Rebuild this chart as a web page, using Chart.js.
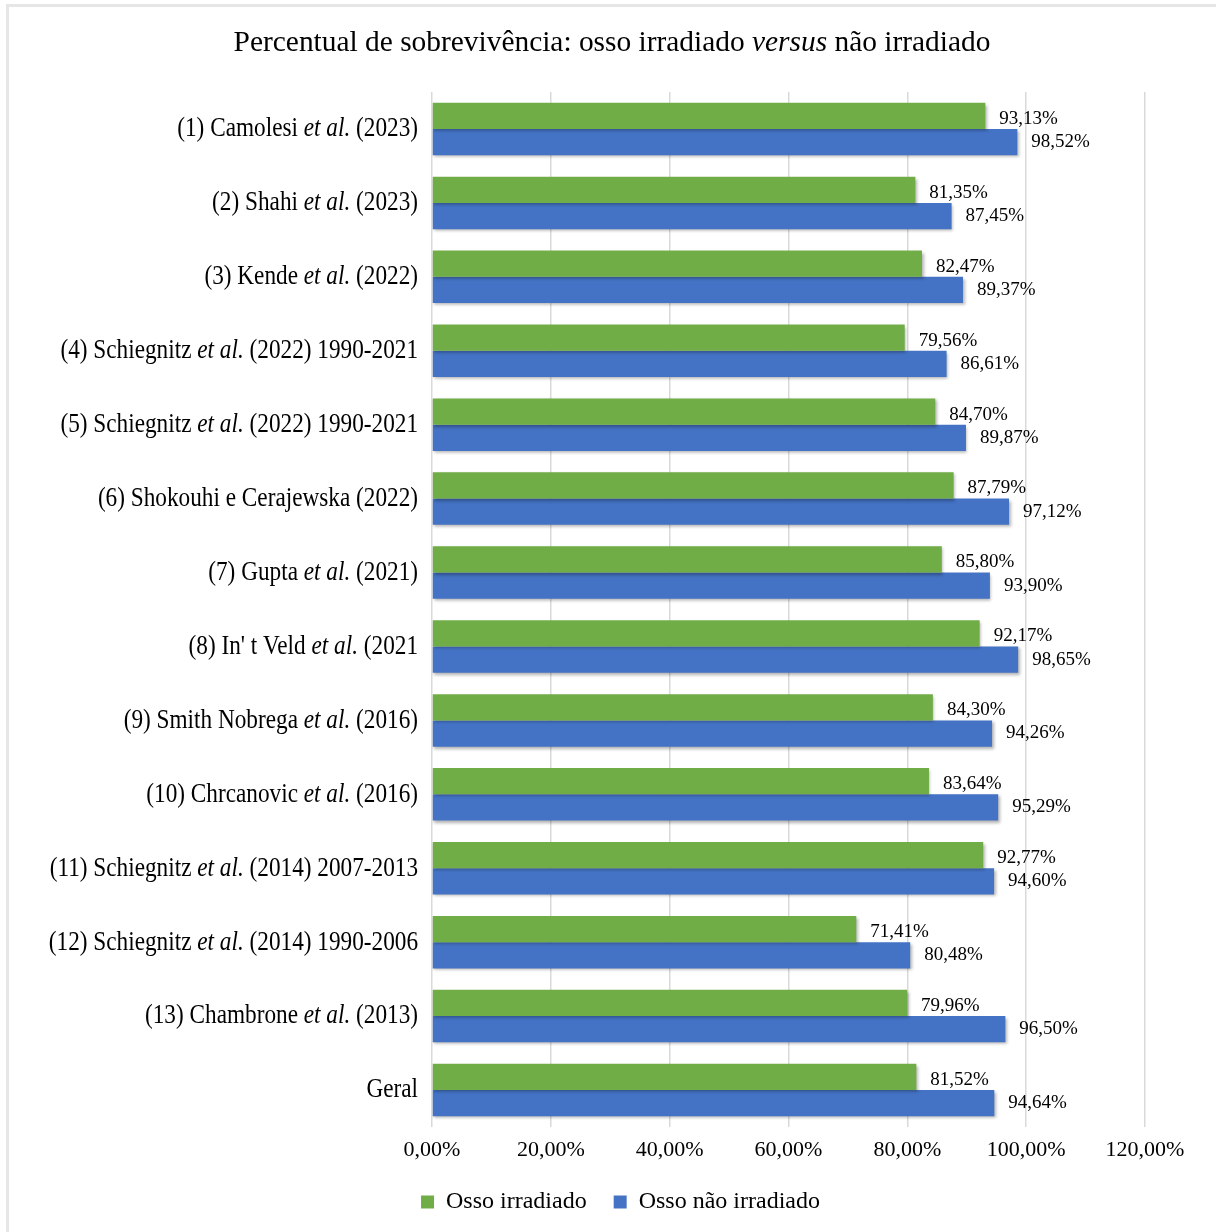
<!DOCTYPE html>
<html>
<head>
<meta charset="utf-8">
<script src="https://cdn.jsdelivr.net/npm/chart.js@4"></script>
<style>
  html, body { margin: 0; padding: 0; background: #fff; }
  #wrap { position: relative; width: 1216px; height: 1232px; overflow: hidden; }
  #frame { position: absolute; left: 6px; top: 4px; width: 1300px; height: 1300px;
           border-left: 3px solid #e6e6e6; border-top: 3px solid #e6e6e6; pointer-events: none; }
  canvas { position: absolute; left: 0; top: 0; }
</style>
</head>
<body>
<div id="wrap">
  <canvas id="myChart" width="1216" height="1232"></canvas>
  <div id="frame"></div>
</div>
<script>
const categories = [
  '(1) Camolesi et al. (2023)',
  '(2) Shahi et al. (2023)',
  '(3) Kende et al. (2022)',
  '(4) Schiegnitz et al. (2022) 1990-2021',
  '(5) Schiegnitz et al. (2022) 1990-2021',
  '(6) Shokouhi e Cerajewska (2022)',
  '(7) Gupta et al. (2021)',
  "(8) In' t Veld et al. (2021",
  '(9) Smith Nobrega et al. (2016)',
  '(10) Chrcanovic et al. (2016)',
  '(11) Schiegnitz et al. (2014) 2007-2013',
  '(12) Schiegnitz et al. (2014) 1990-2006',
  '(13) Chambrone et al. (2013)',
  'Geral'
];
const irradiado = [93.13, 81.35, 82.47, 79.56, 84.70, 87.79, 85.80, 92.17, 84.30, 83.64, 92.77, 71.41, 79.96, 81.52];
const naoIrradiado = [98.52, 87.45, 89.37, 86.61, 89.87, 97.12, 93.90, 98.65, 94.26, 95.29, 94.60, 80.48, 96.50, 94.64];
const seriesNames = ['Osso irradiado', 'Osso não irradiado'];
const titleParts = ['Percentual de sobrevivência: osso irradiado ', 'versus', ' não irradiado'];

const serif = '"Liberation Serif", "Times New Roman", serif';
const fmt = v => v.toFixed(2).replace('.', ',') + '%';

// draws text pieces (some italic), squeezed horizontally by sx
function drawMixed(ctx, parts, xAnchor, y, size, sx, align) {
  let total = 0;
  parts.forEach(p => {
    ctx.font = (p.i ? 'italic ' : '') + size + 'px ' + serif;
    p.w = ctx.measureText(p.t).width;
    total += p.w;
  });
  ctx.save();
  ctx.translate(xAnchor, y);
  ctx.scale(sx, 1);
  let x = align === 'center' ? -total / 2 : -total;
  ctx.textAlign = 'left';
  ctx.textBaseline = 'middle';
  ctx.fillStyle = '#000';
  parts.forEach(p => {
    ctx.font = (p.i ? 'italic ' : '') + size + 'px ' + serif;
    ctx.fillText(p.t, x, 0);
    x += p.w;
  });
  ctx.restore();
}

function splitLabel(s) {
  const k = s.indexOf('et al.');
  if (k < 0) return [{ t: s, i: false }];
  return [
    { t: s.slice(0, k), i: false },
    { t: 'et al.', i: true },
    { t: s.slice(k + 6), i: false }
  ];
}

const customText = {
  id: 'customText',
  afterLayout(chart) {
    // legend sits a bit right of the plot's centre in the original
    chart.legend.left += 48;
    chart.legend.right += 48;
  },
  beforeDatasetsDraw(chart) {
    const ctx = chart.ctx;
    ctx.save();
    ctx.shadowColor = 'rgba(0,0,0,0.3)';
    ctx.shadowOffsetX = 1.5;
    ctx.shadowOffsetY = 2;
    ctx.shadowBlur = 3;
  },
  afterDatasetsDraw(chart) {
    const ctx = chart.ctx;
    ctx.restore();
    // value labels
    ctx.save();
    ctx.font = '19px ' + serif;
    ctx.fillStyle = '#000';
    ctx.textBaseline = 'middle';
    ctx.textAlign = 'left';
    chart.data.datasets.forEach((ds, di) => {
      chart.getDatasetMeta(di).data.forEach((bar, i) => {
        ctx.fillText(fmt(ds.data[i]), bar.x + 14, bar.y + (di === 0 ? 3 : 0));
      });
    });
    ctx.restore();
    // category labels
    const ys = chart.scales.y;
    categories.forEach((c, i) => {
      drawMixed(ctx, splitLabel(c), ys.right - 14, ys.getPixelForValue(i), 28, 0.83, 'right');
    });
    // title
    const parts = titleParts.map((t, i) => ({ t: t, i: i === 1 }));
    drawMixed(ctx, parts, 612, 43, 30, 0.98, 'center');
  }
};

const ctx = document.getElementById('myChart').getContext('2d');
const myChart = new Chart(ctx, {
  type: 'bar',
  data: {
    labels: categories,
    datasets: [{
      label: seriesNames[0],
      data: irradiado,
      backgroundColor: '#70ad47',
      borderWidth: 0
    }, {
      label: seriesNames[1],
      data: naoIrradiado,
      backgroundColor: '#4472c4',
      borderWidth: 0
    }]
  },
  options: {
    indexAxis: 'y',
    responsive: false,
    animation: false,
    layout: { padding: { top: 92, right: 71, bottom: 8, left: 0 } },
    datasets: { bar: { barPercentage: 1, categoryPercentage: 0.71 } },
    scales: {
      x: {
        min: 0,
        max: 120,
        ticks: {
          stepSize: 20,
          callback: v => fmt(v),
          color: '#000',
          font: { family: serif, size: 22 },
          padding: 10
        },
        grid: { color: '#d9d9d9', drawTicks: false, lineWidth: 1.5 },
        border: { display: false },
        afterFit: s => { s.height = 54; }
      },
      y: {
        ticks: { display: false },
        grid: { display: false },
        border: { display: false },
        afterFit: s => { s.width = 432; }
      }
    },
    plugins: {
      legend: {
        position: 'bottom',
        labels: {
          color: '#000',
          font: { family: serif, size: 24 },
          boxWidth: 13,
          boxHeight: 13,
          padding: 9,
          generateLabels: chart => {
            const items = Chart.defaults.plugins.legend.labels.generateLabels(chart);
            items[0].text += '   ';
            return items;
          }
        }
      },
      title: { display: false },
      tooltip: { enabled: false }
    }
  },
  plugins: [customText]
});
</script>
</body>
</html>
